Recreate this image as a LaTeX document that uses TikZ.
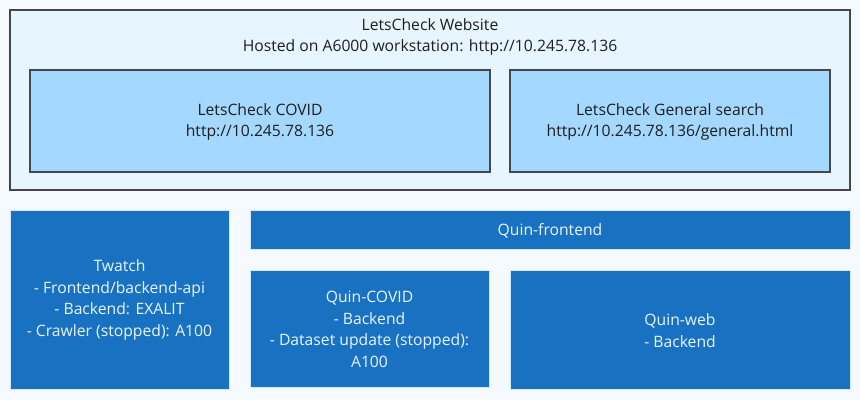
\documentclass[tikz,border=0pt]{standalone}
\usepackage{fontspec}
\setmainfont{Open Sans}
\definecolor{bg}{HTML}{F5FAFF}
\definecolor{outerfill}{HTML}{E7F5FF}
\definecolor{innerfill}{HTML}{A5D8FF}
\definecolor{edge}{HTML}{45484D}
\definecolor{darkblue}{HTML}{1971C2}
\definecolor{lightline}{HTML}{D0EBFF}
\definecolor{txtdark}{HTML}{1E1E1E}
\definecolor{txtlight}{HTML}{EAF5FF}
\begin{document}
\begin{tikzpicture}[x=1pt,y=-1pt,
  every node/.style={font=\fontsize{15.7}{21.5}\selectfont, align=center, inner sep=0pt},
  outerbox/.style={draw=edge, line width=1.4pt, fill=outerfill},
  innerbox/.style={draw=edge, line width=1.4pt, fill=innerfill},
  bluebox/.style={draw=lightline, line width=0.5pt, fill=darkblue},
  darktext/.style={text=txtdark},
  lighttext/.style={text=txtlight}]
\fill[bg] (0,0) rectangle (860,400);
\useasboundingbox (0,0) rectangle (860,400);
% outer website box
\draw[outerbox] (10,10) rectangle (850,190);
\node[darktext] (webtitle) at (430,37) {LetsCheck Website\\Hosted on A6000 workstation: http://10.245.78.136};
% inner boxes
\draw[innerbox] (30,70) rectangle (490,172);
\node[darktext] (covid) at (260,122) {LetsCheck COVID\\http://10.245.78.136};
\draw[innerbox] (510,70) rectangle (830,172);
\node[darktext] (general) at (670,122) {LetsCheck General search\\http://10.245.78.136/general.html};
% blue boxes
\draw[bluebox] (10,210) rectangle (229,389);
\node[lighttext] (twatch) at (119.5,300) {Twatch\\- Frontend/backend-api\\- Backend: EXALIT\\- Crawler (stopped): A100};
\draw[bluebox] (250,210) rectangle (850,249);
\node[lighttext] (qfront) at (550,230.5) {Quin-frontend};
\draw[bluebox] (250,270) rectangle (489,387);
\node[lighttext] (qcovid) at (369.5,329.5) {Quin-COVID\\- Backend\\- Dataset update (stopped):\\A100};
\draw[bluebox] (510,270) rectangle (850,389);
\node[lighttext] (qweb) at (680,330.5) {Quin-web\\- Backend};
\end{tikzpicture}
\end{document}
